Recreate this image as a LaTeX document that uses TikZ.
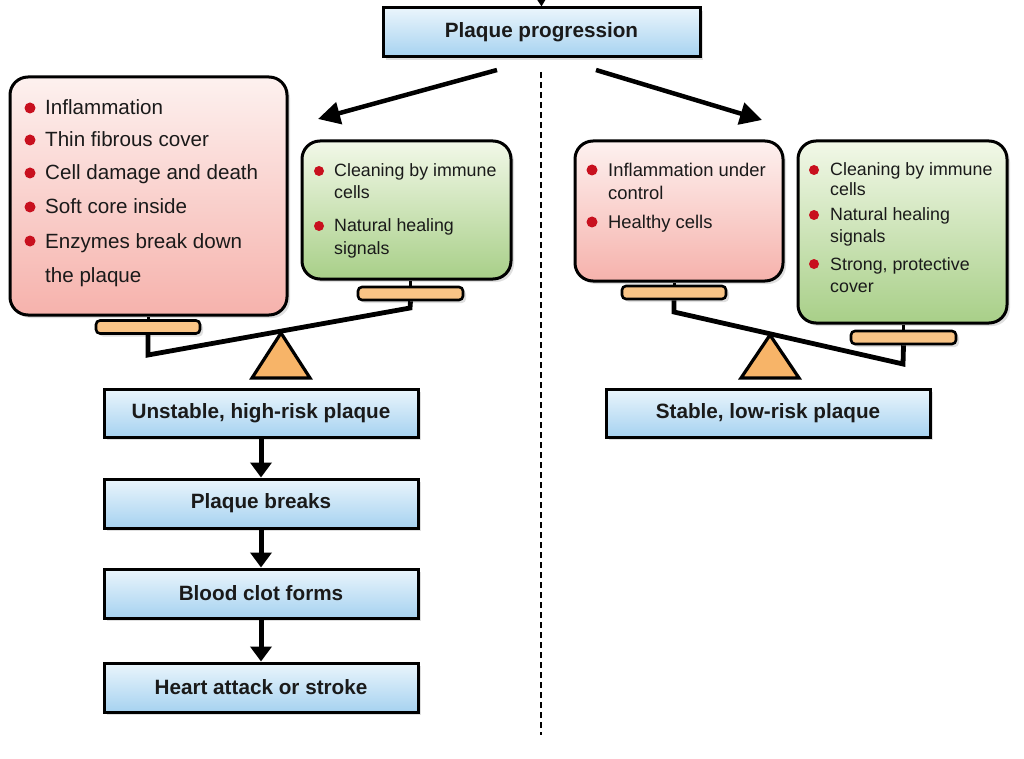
\documentclass[tikz,border=0pt]{standalone}
\usepackage{fontspec}
\setmainfont{Liberation Sans}
\usetikzlibrary{arrows.meta,shadows}
\definecolor{bluetop}{HTML}{EAF5FC}
\definecolor{bluebot}{HTML}{A6D2F0}
\definecolor{redtop}{HTML}{FDF1EF}
\definecolor{redbot}{HTML}{F6B2AC}
\definecolor{greentop}{HTML}{F2F8E8}
\definecolor{greenbot}{HTML}{A8CF88}
\definecolor{panfill}{HTML}{F9C486}
\definecolor{fulcfill}{HTML}{F7B468}
\definecolor{bulletred}{HTML}{C8101E}
\definecolor{txt}{HTML}{1A1A1A}
\tikzset{
  shadowed/.style={drop shadow={shadow xshift=3pt,shadow yshift=-3pt,opacity=0.25,fill=gray}},
  stepbox/.style={draw=black, line width=3pt, top color=bluetop, bottom color=bluebot,
    minimum width=314pt, minimum height=48pt, inner sep=0pt, text=txt,
    font=\bfseries\fontsize{20.7}{24}\selectfont, shadowed},
  redbox/.style={draw=black, line width=3pt, rounded corners=18pt, top color=redtop, bottom color=redbot, inner sep=0pt, shadowed},
  greenbox/.style={draw=black, line width=3pt, rounded corners=18pt, top color=greentop, bottom color=greenbot, inner sep=0pt, shadowed},
  panbox/.style={draw=black, line width=2.6pt, rounded corners=4pt, fill=panfill, minimum width=104pt, minimum height=13pt, inner sep=0pt, shadowed},
  stem/.style={draw=black, line width=3pt},
  beam/.style={draw=black, line width=4.8pt, line join=miter},
  fulcrum/.style={draw=black, line width=3.2pt, fill=fulcfill, line join=miter},
  bigtxt/.style={anchor=base west, inner sep=0pt, text=txt, font=\fontsize{20.6}{24}\selectfont},
  smalltxt/.style={anchor=base west, inner sep=0pt, text=txt, font=\fontsize{17.8}{21}\selectfont},
  dot/.style={fill=bulletred},
  diag/.style={draw=black, line width=4.5pt, -{Triangle[length=22pt,width=22pt]}},
  down/.style={draw=black, line width=5pt, -{Triangle[length=15pt,width=21pt]}},
  sep/.style={draw=black, line width=2pt, dash pattern=on 6pt off 4pt}
}
\begin{document}
\begin{tikzpicture}[x=1pt,y=-1pt]
\useasboundingbox (0,0) rectangle (1024,759);
\fill[white] (0,0) rectangle (1024,759);

% separator
\coordinate (sepTop) at (541,72);
\coordinate (sepBot) at (541,735);
\draw[sep] (sepTop) -- (sepBot);

% top
\node[stepbox, minimum width=317pt, minimum height=49pt] (pp) at (541.5,32.5) {Plaque progression};
\coordinate (inTop) at (541,-16);
\draw[down, -{Triangle[length=12pt,width=14pt]}, line width=3pt] (inTop) -- (pp.north);

% diagonal arrows
\coordinate (aLs) at (497,70);
\coordinate (aLe) at (318,119);
\coordinate (aRs) at (596,70);
\coordinate (aRe) at (762,120);
\draw[diag] (aLs) -- (aLe);
\draw[diag] (aRs) -- (aRe);

% ---------- left scale ----------
\node[redbox, minimum width=277pt, minimum height=238pt] (redL) at (148.5,196) {};
\node[greenbox, minimum width=209pt, minimum height=138pt] (greenL) at (406.5,210) {};
\node[panbox] (panL1) at (148,327) {};
\node[panbox, minimum width=105pt] (panL2) at (410.5,293.5) {};
\draw[stem] (panL1.north) -- (panL1.north |- redL.south);
\draw[stem] (panL2.north) -- (panL2.north |- greenL.south);
\coordinate (bL1) at (148,355);
\coordinate (bL2) at (410,308);
\draw[beam] (panL1.south) -- (bL1) -- (bL2) -- (panL2.south);
\draw[fulcrum] (281,333) -- (310,378) -- (252,378) -- cycle;

% red left text
\fill[dot] (30,108) circle (5.5);
\node[bigtxt] (r1) at (45,115) {Inflammation};
\fill[dot] (30,140) circle (5.5);
\node[bigtxt] (r2) at (45,147) {Thin fibrous cover};
\fill[dot] (30,173) circle (5.5);
\node[bigtxt] (r3) at (45,180) {Cell damage and death};
\fill[dot] (30,207) circle (5.5);
\node[bigtxt] (r4) at (45,214) {Soft core inside};
\fill[dot] (30,241) circle (5.5);
\node[bigtxt] (r5) at (45,248) {Enzymes break down};
\node[bigtxt] (r6) at (45,282) {the plaque};

% green left text
\fill[dot] (319,171) circle (5);
\node[smalltxt] (g1) at (334,177) {Cleaning by immune};
\node[smalltxt] (g2) at (334,199) {cells};
\fill[dot] (319,226) circle (5);
\node[smalltxt] (g3) at (334,232) {Natural healing};
\node[smalltxt] (g4) at (334,254) {signals};

% left chain
\node[stepbox] (unst) at (261,413) {Unstable, high-risk plaque};
\node[stepbox, minimum height=49pt] (brk) at (261,503.5) {Plaque breaks};
\node[stepbox, minimum height=49pt] (clot) at (261,593.5) {Blood clot forms};
\node[stepbox, minimum height=49pt] (heart) at (261,687.5) {Heart attack or stroke};
\draw[down] (unst.south) -- (brk.north);
\draw[down] (brk.south) -- (clot.north);
\draw[down] (clot.south) -- (heart.north);

% ---------- right scale ----------
\node[redbox, minimum width=208pt, minimum height=140pt] (redR) at (679,211) {};
\node[greenbox, minimum width=209pt, minimum height=182pt] (greenR) at (902.5,232) {};
\node[panbox] (panR1) at (674,292.5) {};
\node[panbox, minimum width=105pt] (panR2) at (903.5,337.5) {};
\draw[stem] (panR1.north) -- (panR1.north |- redR.south);
\draw[stem] (panR2.north) -- (panR2.north |- greenR.south);
\coordinate (bR1) at (674,312);
\coordinate (bR2) at (903,364);
\draw[beam] (panR1.south) -- (bR1) -- (bR2) -- (panR2.south);
\draw[fulcrum] (770,335) -- (799,378) -- (741,378) -- cycle;

% red right text
\fill[dot] (592,170) circle (5.5);
\node[smalltxt, font=\fontsize{18.4}{21}\selectfont] (rr1) at (608,176.5) {Inflammation under};
\node[smalltxt, font=\fontsize{18.4}{21}\selectfont] (rr2) at (608,199.5) {control};
\fill[dot] (592,222) circle (5.5);
\node[smalltxt, font=\fontsize{18.4}{21}\selectfont] (rr3) at (608,228.5) {Healthy cells};

% green right text
\fill[dot] (814,170) circle (5);
\node[smalltxt] (gr1) at (830,176) {Cleaning by immune};
\node[smalltxt] (gr2) at (830,196) {cells};
\fill[dot] (814,215) circle (5);
\node[smalltxt] (gr3) at (830,221) {Natural healing};
\node[smalltxt] (gr4) at (830,243) {signals};
\fill[dot] (814,264) circle (5);
\node[smalltxt] (gr5) at (830,270) {Strong, protective};
\node[smalltxt] (gr6) at (830,292) {cover};

\node[stepbox, minimum width=324pt] (stab) at (768,413) {Stable, low-risk plaque};
\end{tikzpicture}
\end{document}
